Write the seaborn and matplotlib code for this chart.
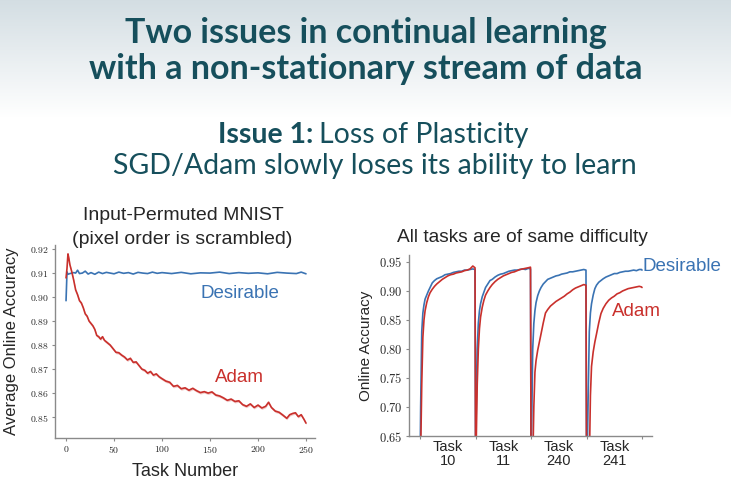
# Recreación de la diapositiva: pérdida de plasticidad (Adam vs Desirable)

import numpy as np
import pandas as pd
import matplotlib
matplotlib.use('Agg')
import matplotlib.pyplot as plt
import matplotlib.ticker as mticker
import seaborn as sns

#== Datos

# Panel izquierdo: precisión media en línea vs número de tarea
adam_task = [0, 1, 2, 3, 4, 6, 8, 10, 12, 14, 16, 18, 20, 22, 24, 26, 28, 30, 32, 34,
             36, 38, 40, 43, 46, 49, 52, 55, 58, 61, 64, 67, 70, 73, 76, 79, 82, 85, 88, 91,
             94, 97, 100, 104, 108, 112, 116, 120, 124, 128, 132, 136, 140, 144, 148, 152, 156, 160, 164, 168,
             172, 176, 180, 184, 188, 192, 196, 200, 204, 208, 211, 214, 218, 222, 226, 230, 233, 236, 239, 242,
             245, 248, 250]
adam_acc = [0.9080, 0.9120, 0.9180, 0.9160, 0.9135, 0.9105, 0.9070, 0.9030, 0.9010, 0.8985,
            0.8975, 0.8955, 0.8930, 0.8920, 0.8900, 0.8890, 0.8880, 0.8865, 0.8840, 0.8835,
            0.8825, 0.8835, 0.8820, 0.8810, 0.8800, 0.8785, 0.8770, 0.8768, 0.8758, 0.8750,
            0.8738, 0.8745, 0.8728, 0.8730, 0.8715, 0.8700, 0.8695, 0.8683, 0.8690, 0.8675,
            0.8680, 0.8668, 0.8660, 0.8650, 0.8645, 0.8628, 0.8632, 0.8618, 0.8622, 0.8612,
            0.8620, 0.8610, 0.8602, 0.8606, 0.8600, 0.8605, 0.8592, 0.8588, 0.8580, 0.8570,
            0.8575, 0.8565, 0.8568, 0.8552, 0.8545, 0.8555, 0.8540, 0.8550, 0.8538, 0.8545,
            0.8562, 0.8540, 0.8525, 0.8520, 0.8508, 0.8495, 0.8510, 0.8515, 0.8518, 0.8502,
            0.8510, 0.8490, 0.8475]
adam_band = 0.0006  # semiancho de la banda de error

desir_task = [0, 1, 2, 4, 6, 8, 10, 12, 14, 17, 20, 23, 26, 30, 34, 38, 42, 46, 50, 55,
              60, 65, 70, 75, 80, 85, 90, 95, 100, 110, 120, 130, 140, 150, 160, 170, 180, 190, 200, 210,
              220, 230, 240, 245, 250]
desir_acc = [0.8985, 0.9105, 0.9095, 0.9098, 0.9100, 0.9102, 0.9100, 0.9112, 0.9098, 0.9100,
             0.9108, 0.9096, 0.9102, 0.9095, 0.9104, 0.9098, 0.9103, 0.9100, 0.9097, 0.9104,
             0.9099, 0.9102, 0.9096, 0.9103, 0.9100, 0.9098, 0.9104, 0.9099, 0.9102, 0.9098,
             0.9103, 0.9097, 0.9101, 0.9100, 0.9104, 0.9098, 0.9102, 0.9099, 0.9101, 0.9097,
             0.9103, 0.9100, 0.9098, 0.9104, 0.9097]

# Panel derecho: precisión en línea dentro de cuatro tareas
tareas = ['Task\n10', 'Task\n11', 'Task\n240', 'Task\n241']
frac = [0.00, 0.01, 0.03, 0.05, 0.07, 0.09, 0.12, 0.15, 0.18, 0.22, 0.26, 0.30, 0.35, 0.40,
        0.45, 0.50, 0.55, 0.60, 0.65, 0.70, 0.75, 0.80, 0.85, 0.90, 0.95, 0.99, 1.00]

desir_t10 = [0.60, 0.70, 0.83, 0.862, 0.876, 0.886, 0.893, 0.900, 0.906, 0.914, 0.918, 0.921, 0.923, 0.925,
             0.928, 0.929, 0.930, 0.932, 0.933, 0.934, 0.934, 0.936, 0.936, 0.937, 0.938, 0.937, 0.60]
desir_t11 = [0.60, 0.68, 0.80, 0.845, 0.866, 0.878, 0.890, 0.898, 0.906, 0.912, 0.918, 0.920, 0.924, 0.927,
             0.929, 0.930, 0.932, 0.934, 0.935, 0.936, 0.936, 0.937, 0.938, 0.937, 0.939, 0.938, 0.60]
desir_t240 = [0.60, 0.66, 0.80, 0.844, 0.866, 0.880, 0.892, 0.900, 0.906, 0.912, 0.916, 0.920, 0.922, 0.924,
              0.926, 0.927, 0.929, 0.930, 0.931, 0.933, 0.933, 0.934, 0.935, 0.936, 0.937, 0.936, 0.60]
desir_t241 = [0.60, 0.60, 0.72, 0.83, 0.862, 0.878, 0.893, 0.904, 0.910, 0.915, 0.918, 0.921, 0.924, 0.926,
              0.928, 0.930, 0.930, 0.932, 0.933, 0.934, 0.934, 0.935, 0.936, 0.935, 0.937, 0.937, 0.936]

adam_t10 = [0.60, 0.62, 0.74, 0.82, 0.850, 0.866, 0.880, 0.890, 0.897, 0.903, 0.908, 0.912, 0.916, 0.920,
            0.923, 0.926, 0.928, 0.929, 0.931, 0.932, 0.933, 0.935, 0.936, 0.938, 0.943, 0.940, 0.60]
adam_t11 = [0.60, 0.63, 0.74, 0.80, 0.835, 0.855, 0.872, 0.884, 0.893, 0.900, 0.906, 0.911, 0.916, 0.920,
            0.923, 0.926, 0.928, 0.930, 0.932, 0.933, 0.935, 0.937, 0.938, 0.939, 0.940, 0.941, 0.60]
adam_t240 = [0.60, 0.60, 0.60, 0.70, 0.76, 0.78, 0.798, 0.812, 0.826, 0.845, 0.862, 0.868, 0.874, 0.878,
             0.882, 0.885, 0.888, 0.891, 0.895, 0.898, 0.902, 0.905, 0.907, 0.909, 0.911, 0.910, 0.60]
adam_t241 = [0.60, 0.60, 0.60, 0.60, 0.72, 0.77, 0.795, 0.812, 0.826, 0.845, 0.861, 0.870, 0.878, 0.884,
             0.888, 0.891, 0.895, 0.897, 0.900, 0.902, 0.904, 0.905, 0.906, 0.907, 0.908, 0.907, 0.906]

#== Estilo

sns.set_style('ticks')
plt.rcParams['font.family'] = ['Liberation Sans', 'DejaVu Sans']
plt.rcParams['mathtext.fontset'] = 'cm'

azul = '#3a73b3'
rojo = '#c9302c'
teal = '#164f5c'
gris = '#8a8a8a'
slide_font = ['Lato', 'DejaVu Sans']

W, H = 731, 488
fig = plt.figure(figsize=(W / 100, H / 100), dpi=100)

def fx(px):
    return px / W

def fy(py):
    return 1 - py / H

# Fondo degradado de la diapositiva
bg = fig.add_axes([0, 0, 1, 1], zorder=-10)
bg.axis('off')
t = np.clip(np.linspace(0, 1, H) / 0.24, 0, 1)[:, None]
top = np.array([0.83, 0.87, 0.89])
grad = top[None, None, :] * (1 - t[..., None]) + np.ones(3)[None, None, :] * t[..., None]
bg.imshow(grad, aspect='auto', extent=[0, 1, 0, 1])
bg.set_xlim(0, 1)
bg.set_ylim(0, 1)

# Títulos de la diapositiva
fig.text(0.5, fy(33), 'Two issues in continual learning', ha='center', va='center',
         fontsize=24.5, fontweight='bold', color=teal, family=slide_font)
fig.text(0.5, fy(69), 'with a non-stationary stream of data', ha='center', va='center',
         fontsize=24.5, fontweight='bold', color=teal, family=slide_font)
fig.text(fx(313), fy(135), 'Issue 1:', ha='right', va='center',
         fontsize=20.5, fontweight='bold', color=teal, family=slide_font)
fig.text(fx(319), fy(135), 'Loss of Plasticity', ha='left', va='center',
         fontsize=20.5, color=teal, family=slide_font)
fig.text(fx(375), fy(166), 'SGD/Adam slowly loses its ability to learn', ha='center', va='center',
         fontsize=20.5, color=teal, family=slide_font)

#== Panel izquierdo

ax1 = fig.add_axes([fx(55), fy(438), fx(315) - fx(55), fy(245) - fy(438)])
ax1.set_facecolor('none')
sns.lineplot(x=desir_task, y=desir_acc, ax=ax1, color=azul, linewidth=1.2, errorbar=None)
ax1.fill_between(adam_task, np.array(adam_acc) - adam_band, np.array(adam_acc) + adam_band,
                 color=rojo, alpha=0.25, linewidth=0)
sns.lineplot(x=adam_task, y=adam_acc, ax=ax1, color=rojo, linewidth=1.2, errorbar=None)

ax1.set_xlim(-11.5, 259.4)
ax1.set_ylim(0.8413, 0.9217)
ax1.set_xticks([0, 50, 100, 150, 200, 250])
ax1.set_yticks([0.85, 0.86, 0.87, 0.88, 0.89, 0.90, 0.91, 0.92])
ax1.xaxis.set_major_formatter(mticker.FuncFormatter(lambda v, p: f'${int(v)}$'))
ax1.yaxis.set_major_formatter(mticker.FuncFormatter(lambda v, p: f'${v:.2f}$'))
ax1.tick_params(labelsize=7, length=2.5, width=0.8, color=gris, pad=2)
ax1.set_xlabel('Task Number', fontsize=13)
ax1.set_ylabel('Average Online Accuracy', fontsize=12)
ax1.xaxis.set_label_coords(0.5, -0.13)
ax1.yaxis.set_label_coords(-0.138, 0.5)
sns.despine(ax=ax1)
for s in ['left', 'bottom']:
    ax1.spines[s].set_color(gris)
    ax1.spines[s].set_linewidth(1.0)

ax1.text(181, 0.9017, 'Desirable', color=azul, fontsize=13.5, ha='center', va='center')
ax1.text(181, 0.8667, 'Adam', color=rojo, fontsize=13.5, ha='center', va='center')

fig.text(fx(183), fy(215), 'Input-Permuted MNIST', ha='center', va='center', fontsize=14)
fig.text(fx(182), fy(240), '(pixel order is scrambled)', ha='center', va='center', fontsize=14)

#== Panel derecho

x_seg = np.concatenate([i + np.array(frac) for i in range(len(tareas))])
df_der = pd.DataFrame({
    'x': np.concatenate([x_seg, x_seg]),
    'acc': desir_t10 + desir_t11 + desir_t240 + desir_t241 + adam_t10 + adam_t11 + adam_t240 + adam_t241,
    'metodo': ['Desirable'] * len(x_seg) + ['Adam'] * len(x_seg),
})

ax2 = fig.add_axes([fx(409), fy(436), fx(652) - fx(409), fy(255) - fy(436)])
ax2.set_facecolor('none')
sns.lineplot(data=df_der, x='x', y='acc', hue='metodo', palette={'Desirable': azul, 'Adam': rojo},
             hue_order=['Desirable', 'Adam'], estimator=None, sort=False, linewidth=1.2,
             legend=False, ax=ax2)
ax2.set_xlim(-0.2, 4.18)
ax2.set_ylim(0.65, 0.962)
ax2.set_yticks([0.65, 0.70, 0.75, 0.80, 0.85, 0.90, 0.95])
ax2.yaxis.set_major_formatter(mticker.FuncFormatter(lambda v, p: f'${v:.2f}$'))
ax2.set_xticks([0, 1, 2, 3, 4])
ax2.set_xticklabels([])
ax2.set_xticks([0.5, 1.5, 2.5, 3.5], tareas, minor=True)
ax2.tick_params(axis='x', which='minor', length=0, labelsize=10.5, pad=3)
ax2.tick_params(axis='x', which='major', length=2.5, width=0.8, color=gris)
ax2.tick_params(axis='y', labelsize=9, length=2.5, width=0.8, color=gris, pad=2)
for lab in ax2.get_xticklabels(minor=True):
    lab.set_linespacing(0.95)
ax2.set_xlabel('')
ax2.set_ylabel('Online Accuracy', fontsize=11)
ax2.yaxis.set_label_coords(-0.148, 0.5)
sns.despine(ax=ax2)
for s in ['left', 'bottom']:
    ax2.spines[s].set_color(gris)
    ax2.spines[s].set_linewidth(1.0)

ax2.text(4.0, 0.9414, 'Desirable', color=azul, fontsize=13.5, ha='left', va='center', clip_on=False)
ax2.text(3.46, 0.8638, 'Adam', color=rojo, fontsize=13.5, ha='left', va='center', clip_on=False)

fig.text(fx(522), fy(238), 'All tasks are of same difficulty', ha='center', va='center', fontsize=13.8)

fig.savefig('out.png', dpi=100)
